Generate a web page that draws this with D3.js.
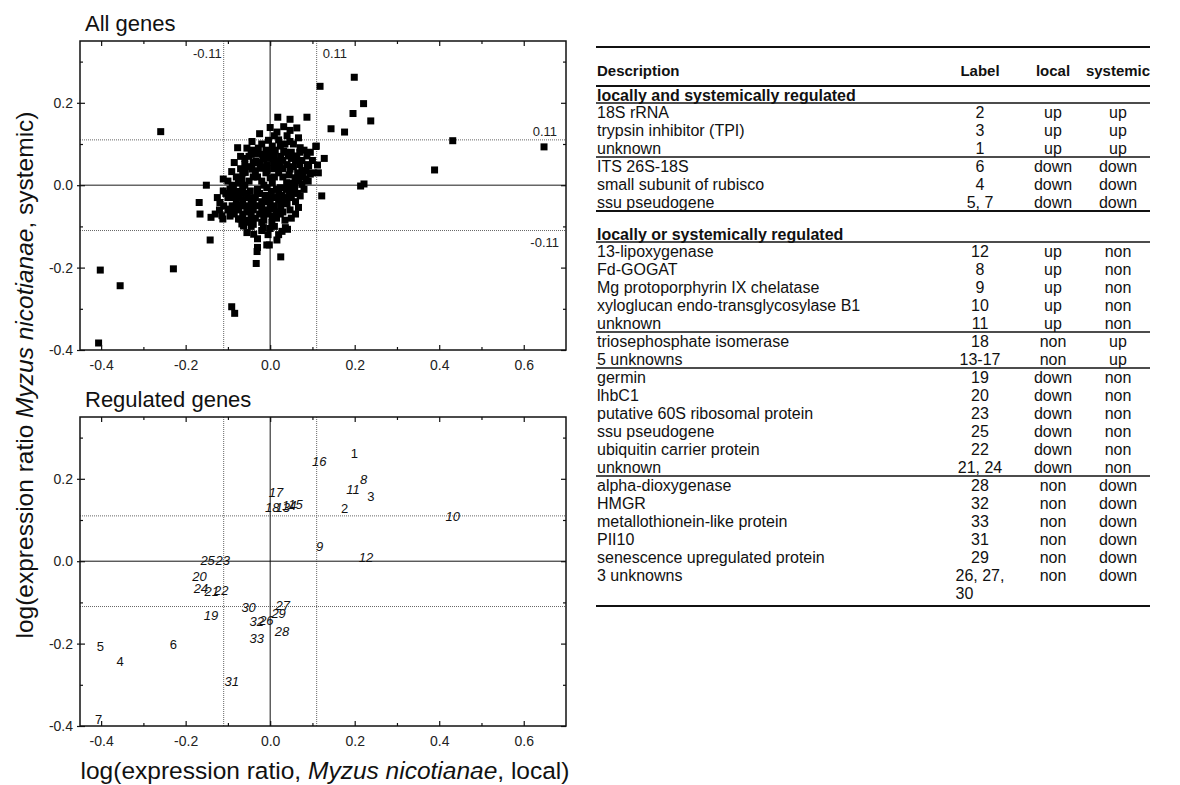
<!DOCTYPE html>
<html>
<head>
<meta charset="utf-8">
<script src="https://cdn.jsdelivr.net/npm/d3@7"></script>
<style>
  html, body { margin: 0; padding: 0; background: #fff; }
  svg { display: block; font-family: "Liberation Sans", Arial, sans-serif; }
</style>
</head>
<body>
<svg id="chart" width="1180" height="785"></svg>
<script>
// ---- All genes: log ratios (local, systemic) ----
const allLocal = [
  0.199,0.118,0.221,0.196,0.238,0.176,0.144,0.432,0.648,0.389,0.214,0.222,0.108,0.128,0.112,0.114,0.122,0.087,0.047,0.018,
  -0.259,-0.402,-0.355,-0.406,-0.229,-0.091,-0.084,-0.142,-0.033,0.025,-0.031,-0.030,-0.008,-0.002,0.016,-0.168,-0.166,-0.140,-0.114,-0.112,
  -0.151,-0.119,0.067,0.047,0.036,0.041,0.028,-0.095,-0.071,-0.047,-0.055,-0.039,-0.063,-0.016,0.004,0.024,0.008,0.071,0.055,-0.075,
  -0.067,-0.051,0.032,0.047,0.063,0.016,0.067,0.047,-0.004,-0.043,-0.077,0.109,0.071,0.024,-0.030,-0.033,-0.016,0.000,0.016,0.032,
  0.043,0.063,0.087,0.091,0.095,-0.091,-0.111,-0.059,-0.043,-0.067,-0.024,-0.008,0.008,0.024,0.047,0.059,0.075,0.039,0.024,-0.008,
  -0.047,-0.087,-0.111,0.000,-0.100,-0.090,-0.080,-0.070,-0.060,-0.050,-0.040,-0.030,-0.020,-0.010,0.000,0.010,0.020,0.030,0.040,0.050,
  0.060,0.080,0.090,0.085,0.070,0.060,0.050,0.035,0.020,0.005,-0.010,-0.020,-0.050,-0.060,-0.070,-0.080,-0.090,-0.100,-0.075,-0.085,
  -0.065,-0.055,-0.045,-0.035,-0.025,-0.015,-0.005,0.015,0.030,0.035,-0.030,-0.020,-0.010,0.010,0.020,0.030,0.040,0.030,0.010,-0.005,
  -0.040,-0.050,-0.060,-0.030,-0.015,0.005,0.015,0.045,0.060,0.065,0.055,0.075,0.080,0.095,0.100,0.100,-0.100,-0.105,-0.110,-0.095,
  -0.120,-0.125,-0.130,-0.085,-0.070,-0.055,-0.040,0.010,0.040,0.055,-0.025,0.000,0.060,0.050,-0.020,0.010,-0.005,0.020,-0.045,-0.030,
  0.050,0.065,0.085,0.075,-0.035,-0.015,-0.075,-0.090,-0.075,-0.065,-0.040,-0.020,0.000,0.020,0.040,
  -0.095,-0.085,-0.075,-0.065,-0.055,-0.045,-0.035,-0.025,-0.012,0.003,0.013,0.028,0.038,0.048,0.058,0.068,0.078,0.088,0.070,0.050,
  0.035,0.025,0.012,-0.003,-0.018,-0.028,-0.045,-0.060,-0.065,-0.055,-0.040,-0.025,-0.008,0.008,0.020,-0.080,-0.090,-0.070,-0.050,-0.030,
  -0.010,0.005,0.025,-0.060,-0.040,-0.020,0.000,0.015,0.045,0.030
];
const allSystemic = [
  0.262,0.240,0.198,0.174,0.156,0.129,0.137,0.108,0.093,0.037,-0.002,0.003,0.094,0.065,0.049,0.030,-0.026,0.165,0.160,0.165,
  0.130,-0.206,-0.244,-0.383,-0.203,-0.295,-0.311,-0.133,-0.190,-0.174,-0.161,-0.151,-0.145,-0.145,-0.133,-0.042,-0.070,-0.078,-0.074,-0.082,
  0.000,-0.042,-0.054,-0.060,-0.103,-0.107,-0.112,-0.058,-0.082,-0.090,-0.115,-0.119,-0.099,-0.103,-0.090,-0.070,-0.058,-0.026,-0.018,-0.082,
  -0.094,-0.086,0.142,0.133,0.139,0.129,0.115,0.106,0.109,0.106,0.091,0.095,0.091,0.095,0.077,0.059,0.063,0.075,0.059,0.083,
  0.071,0.071,0.071,0.047,0.027,0.033,0.015,0.031,0.039,0.015,0.041,0.049,0.055,0.043,0.039,0.018,0.002,0.006,-0.006,-0.006,
  -0.014,-0.010,-0.014,0.018,-0.030,-0.050,-0.040,-0.020,-0.050,-0.030,-0.060,-0.020,-0.040,-0.070,-0.030,-0.050,-0.020,-0.040,-0.030,-0.010,
  -0.040,-0.010,0.010,0.035,0.050,0.060,0.080,0.100,0.110,0.095,0.085,0.100,0.070,0.050,0.040,0.020,0.000,0.010,-0.060,-0.070,
  -0.070,-0.065,-0.075,-0.080,-0.070,-0.085,-0.060,-0.080,-0.065,-0.085,0.020,0.010,0.030,0.020,0.030,0.020,0.050,0.060,0.070,0.065,
  0.055,0.010,0.000,-0.010,0.000,0.005,-0.010,-0.015,0.010,0.030,0.045,0.060,0.085,0.080,0.060,0.030,-0.060,-0.020,-0.050,-0.075,
  -0.060,-0.030,-0.070,0.055,0.070,0.090,0.085,0.120,0.120,0.100,0.125,0.140,-0.070,-0.080,-0.110,-0.100,-0.120,-0.120,-0.100,-0.130,
  -0.030,-0.020,0.015,0.035,0.035,0.045,0.005,-0.025,-0.030,-0.035,-0.045,-0.055,-0.045,-0.035,-0.045,
  -0.010,-0.030,-0.015,-0.010,-0.020,-0.040,-0.030,-0.020,-0.025,-0.015,-0.030,-0.025,-0.010,0.005,-0.005,0.015,0.020,0.050,0.080,0.065,
  0.080,0.070,0.085,0.080,0.075,0.090,0.075,0.065,0.030,0.045,0.020,0.055,0.035,0.040,0.055,-0.050,-0.065,-0.050,-0.055,-0.050,
  -0.040,-0.075,-0.050,-0.085,-0.095,-0.090,-0.105,-0.065,0.025,0.040
];

// ---- Regulated genes: label number, local, systemic ----
const regLabels   = [1,2,3,4,5,6,7,8,9,10,11,12,13,14,15,16,17,18,19,20,21,22,23,24,25,26,27,28,29,30,31,32,33];
const regLocal    = [0.199,0.176,0.238,-0.355,-0.402,-0.229,-0.406,0.221,0.117,0.432,0.196,0.227,0.030,0.045,0.060,0.116,0.014,0.005,
                     -0.140,-0.167,-0.138,-0.116,-0.112,-0.164,-0.148,-0.009,0.030,0.028,0.020,-0.051,-0.091,-0.032,-0.032];
const regSystemic = [0.262,0.129,0.156,-0.244,-0.206,-0.203,-0.383,0.198,0.035,0.108,0.174,0.008,0.130,0.135,0.137,0.243,0.167,0.130,
                     -0.131,-0.036,-0.074,-0.070,0.002,-0.066,0.002,-0.143,-0.107,-0.170,-0.128,-0.112,-0.293,-0.147,-0.187];
// genes regulated both locally and systemically are set upright
const bothRegulated = [1,2,3,4,5,6,7];

// ---- Axes ----
const xDomain = [-0.45, 0.70];
const yDomain = [-0.4, 0.35];
const xTicks = [-0.4, -0.2, 0.0, 0.2, 0.4, 0.6];
const xMinor = [-0.3, -0.1, 0.1, 0.3, 0.5];
const yTicks = [-0.4, -0.2, 0.0, 0.2];
const yMinor = [-0.3, -0.1, 0.1, 0.3];
const threshold = 0.11;

// ---- Table ----
const tableHeader = ["Description", "Label", "local", "systemic"];
const sectionTitles = ["locally and systemically regulated", "locally or systemically regulated"];
const geneDesc = [
  "18S rRNA","trypsin inhibitor (TPI)","unknown",
  "ITS 26S-18S","small subunit of rubisco","ssu pseudogene",
  "13-lipoxygenase","Fd-GOGAT","Mg protoporphyrin IX chelatase","xyloglucan endo-transglycosylase B1","unknown",
  "triosephosphate isomerase","5 unknowns",
  "germin","lhbC1","putative 60S ribosomal protein","ssu pseudogene","ubiquitin carrier protein","unknown",
  "alpha-dioxygenase","HMGR","metallothionein-like protein","PII10","senescence upregulated protein","3 unknowns"
];
const geneLabel = ["2","3","1","6","4","5, 7","12","8","9","10","11","18","13-17","19","20","23","25","22","21, 24",
                   "28","32","33","31","29","26, 27,|30"];
const geneLocal = ["up","up","up","down","down","down","up","up","up","up","up","non","non",
                   "down","down","down","down","down","down","non","non","non","non","non","non"];
const geneSystemic = ["up","up","up","down","down","down","non","non","non","non","non","up","up",
                      "non","non","non","non","non","non","down","down","down","down","down","down"];
// rows per group; section index for each group
const groupSizes = [3, 3, 5, 2, 6, 6];
const groupSection = [0, 0, 1, 1, 1, 1];

const svg = d3.select("#chart");
const fmt = d => d3.format(".1f")(d).replace("\u2212", "-");

function drawPanel(top, bottom, title, drawMarks, isAll) {
  const x = d3.scaleLinear().domain(xDomain).range([80, 566]);
  const y = d3.scaleLinear().domain(yDomain).range([bottom, top]);
  const g = svg.append("g");

  g.append("text").attr("x", 85).attr("y", top - 10)
    .attr("font-size", 22).attr("fill", "#111").text(title);

  // reference lines at ±threshold (dotted) and zero (solid)
  [-threshold, threshold].forEach(v => {
    g.append("line").attr("x1", x(v)).attr("x2", x(v)).attr("y1", top).attr("y2", bottom)
      .attr("stroke", "#666").attr("stroke-width", 1).attr("stroke-dasharray", "1,1");
    g.append("line").attr("x1", x.range()[0]).attr("x2", x.range()[1]).attr("y1", y(v)).attr("y2", y(v))
      .attr("stroke", "#666").attr("stroke-width", 1).attr("stroke-dasharray", "1,1");
  });
  const zeroColor = isAll ? "#666" : "#111";
  const zeroW = isAll ? 1.6 : 1;
  g.append("line").attr("x1", x(0)).attr("x2", x(0)).attr("y1", top).attr("y2", bottom)
    .attr("stroke", zeroColor).attr("stroke-width", zeroW);
  g.append("line").attr("x1", x.range()[0]).attr("x2", x.range()[1]).attr("y1", y(0)).attr("y2", y(0))
    .attr("stroke", zeroColor).attr("stroke-width", zeroW);

  drawMarks(g, x, y);

  // axes: labelled bottom/left, inward ticks on all four sides
  g.append("g").attr("transform", `translate(0,${bottom})`)
    .call(d3.axisBottom(x).tickValues(xTicks).tickFormat(fmt).tickSizeInner(-5).tickSizeOuter(0).tickPadding(10));
  g.append("g").attr("transform", `translate(80,0)`)
    .call(d3.axisLeft(y).tickValues(yTicks).tickFormat(fmt).tickSizeInner(-5).tickSizeOuter(0).tickPadding(7));
  g.append("g").attr("transform", `translate(0,${top})`)
    .call(d3.axisTop(x).tickValues(xTicks).tickFormat("").tickSizeInner(-5).tickSizeOuter(0));
  g.append("g").attr("transform", `translate(566,0)`)
    .call(d3.axisRight(y).tickValues(yTicks).tickFormat("").tickSizeInner(-5).tickSizeOuter(0));
  // small outward stubs on the left axis
  g.append("g").attr("transform", `translate(80,0)`)
    .call(d3.axisLeft(y).tickValues(yTicks).tickFormat("").tickSize(3).tickSizeOuter(0));
  // minor ticks
  g.append("g").attr("transform", `translate(0,${bottom})`)
    .call(d3.axisBottom(x).tickValues(xMinor).tickFormat("").tickSizeInner(-3).tickSizeOuter(0));
  g.append("g").attr("transform", `translate(0,${top})`)
    .call(d3.axisTop(x).tickValues(xMinor).tickFormat("").tickSizeInner(-3).tickSizeOuter(0));
  g.append("g").attr("transform", `translate(80,0)`)
    .call(d3.axisLeft(y).tickValues(yMinor).tickFormat("").tickSizeInner(-3).tickSizeOuter(0));
  g.append("g").attr("transform", `translate(566,0)`)
    .call(d3.axisRight(y).tickValues(yMinor).tickFormat("").tickSizeInner(-3).tickSizeOuter(0));
  g.selectAll(".domain").remove();
  g.selectAll(".tick line").attr("stroke", "#111").attr("stroke-width", 1.2);
  g.selectAll(".tick text").attr("font-size", 14).attr("fill", "#222")
    .attr("font-family", '"Liberation Sans", Arial, sans-serif');

  // frame
  g.append("rect").attr("x", 80).attr("y", top).attr("width", 486).attr("height", bottom - top)
    .attr("fill", "none").attr("stroke", "#111").attr("stroke-width", 1.5);

  if (isAll) {
    const lab = (tx, ty, anchor, t) => g.append("text").attr("x", tx).attr("y", ty)
      .attr("text-anchor", anchor).attr("font-size", 13).attr("fill", "#222").text(t);
    lab(x(-threshold) - 2, top + 17, "end", "-0.11");
    lab(x(threshold) + 6, top + 17, "start", "0.11");
    lab(557, y(threshold) - 4, "end", "0.11");
    lab(559, y(-threshold) + 16, "end", "-0.11");
  }
}

drawPanel(41, 350, "All genes", (g, x, y) => {
  g.selectAll("rect.pt").data(d3.range(allLocal.length)).join("rect")
    .attr("class", "pt")
    .attr("x", i => x(allLocal[i]) - 3.5).attr("y", i => y(allSystemic[i]) - 3.5)
    .attr("width", 7).attr("height", 7).attr("fill", "#000");
}, true);

drawPanel(417, 726, "Regulated genes", (g, x, y) => {
  g.selectAll("text.lbl").data(d3.range(regLabels.length)).join("text")
    .attr("class", "lbl")
    .attr("x", i => x(regLocal[i])).attr("y", i => y(regSystemic[i]))
    .attr("dy", "0.35em").attr("text-anchor", "middle")
    .attr("font-size", 13).attr("fill", "#111")
    .attr("font-style", i => bothRegulated.includes(regLabels[i]) ? "normal" : "italic")
    .text(i => regLabels[i]);
}, false);

// axis titles
const yTitle = svg.append("text").attr("transform", "translate(33,375) rotate(-90)")
  .attr("text-anchor", "middle").attr("font-size", 24.5).attr("fill", "#111");
yTitle.append("tspan").text("log(expression ratio ");
yTitle.append("tspan").attr("font-style", "italic").text("Myzus nicotianae");
yTitle.append("tspan").text(", systemic)");

const xTitle = svg.append("text").attr("x", 325).attr("y", 779)
  .attr("text-anchor", "middle").attr("font-size", 24.5).attr("fill", "#111");
xTitle.append("tspan").text("log(expression ratio, ");
xTitle.append("tspan").attr("font-style", "italic").text("Myzus nicotianae");
xTitle.append("tspan").text(", local)");

// ---- table ----
const tX0 = 596, tX1 = 1150;
const colLabel = 980, colLocal = 1053, colSys = 1118;
const rowH = 18;
const tg = svg.append("g").attr("font-size", 16).attr("fill", "#111");
const hline = (yy, w) => tg.append("line").attr("x1", tX0).attr("x2", tX1).attr("y1", yy).attr("y2", yy)
  .attr("stroke", "#111").attr("stroke-width", w);
const textAt = (tx, cy, t, anchor, bold, size) => tg.append("text").attr("x", tx).attr("y", cy).attr("dy", "0.35em")
  .attr("text-anchor", anchor).attr("font-weight", bold ? "bold" : "normal")
  .attr("font-size", size || null).text(t);

hline(47, 2);
textAt(597, 71, tableHeader[0], "start", true, 15);
textAt(colLabel, 71, tableHeader[1], "middle", true, 15);
textAt(colLocal, 71, tableHeader[2], "middle", true, 15);
textAt(colSys, 71, tableHeader[3], "middle", true, 15);
hline(86, 2);

let cy = 86;
let row = 0;
let currentSection = -1;
groupSizes.forEach((n, gi) => {
  if (groupSection[gi] !== currentSection) {
    currentSection = groupSection[gi];
    const pad = currentSection > 0 ? 14 : 0;
    textAt(597, cy + pad + 9, sectionTitles[currentSection], "start", true);
    cy += pad + 17;
    hline(cy, 1.5);
  }
  for (let k = 0; k < n; k++, row++) {
    const c = cy + 9;
    textAt(597, c, geneDesc[row], "start", false);
    const parts = geneLabel[row].split("|");
    if (parts.length > 1) {
      const first = textAt(colLabel, c, parts[0], "middle", false);
      const left = colLabel - first.node().getComputedTextLength() / 2;
      textAt(left, c + rowH, parts[1], "start", false);
    } else {
      textAt(colLabel, c, parts[0], "middle", false);
    }
    textAt(colLocal, c, geneLocal[row], "middle", false);
    textAt(colSys, c, geneSystemic[row], "middle", false);
    cy += rowH;
  }
  if (gi === groupSizes.length - 1) {
    cy += rowH + 4;
    hline(cy, 2);
  } else {
    hline(cy, (gi === 1) ? 2 : 1.5);
  }
});
</script>
</body>
</html>
